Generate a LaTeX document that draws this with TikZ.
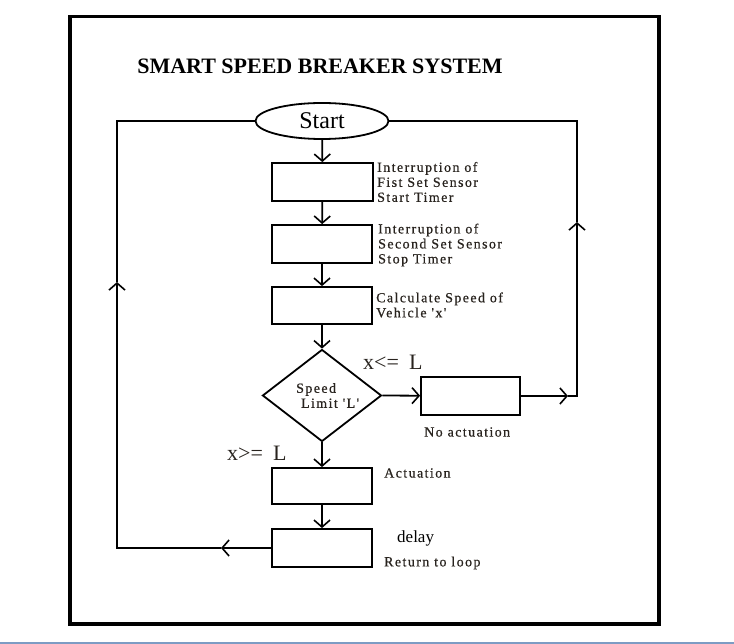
\documentclass[tikz,border=0pt]{standalone}
\usepackage{fontspec}
\setmainfont{Liberation Serif}
\newfontfamily\lblfont[LetterSpace=10,FakeBold=0.6]{Liberation Serif}
\usetikzlibrary{positioning,calc,shapes,arrows.meta}
\definecolor{txt}{RGB}{40,35,30}
\definecolor{bottomrule}{RGB}{125,155,195}

\begin{document}
\begin{tikzpicture}[x=1pt,y=-1pt,
    ln/.style={line width=1.8pt},
    arr/.style={line width=1.8pt,-{Straight Barb[length=7pt,width=16pt,line width=1.6pt]}},
    box/.style={draw,line width=1.8pt,minimum width=100pt,minimum height=37pt,inner sep=0pt},
    lbl/.style={font=\fontsize{14}{15}\lblfont,text=txt,align=left,inner sep=0pt},
    cond/.style={font=\fontsize{22}{24}\selectfont,text=txt,inner sep=0pt}]
                    \useasboundingbox (0,0) rectangle (734,644);
                    \draw[line width=3.5pt] (70,16.5) rectangle (659,624);
                    \draw[bottomrule,line width=1.5pt] (0,643) -- (734,643);
                    \node[font=\fontsize{22}{24}\selectfont\bfseries] (title) at (320,66) {SMART SPEED BREAKER SYSTEM};
                    % flow nodes
                    \node[draw,ellipse,line width=1.8pt,minimum width=133pt,minimum height=36pt,inner sep=0pt,font=\fontsize{24}{26}\selectfont] (start) at (322,121) {Start};
                    \node[box,minimum width=101pt,minimum height=38pt] (first) at (322.5,182) {};
                    \node[box,minimum height=38pt] (second) at (322,244) {};
                    \node[box] (calc) at (322,305.5) {};
                    \node[draw,diamond,line width=1.8pt,minimum width=119pt,minimum height=92pt,inner sep=0pt] (limit) at (322,395.5) {};
                    \node[box,minimum width=99pt,minimum height=38pt] (noact) at (470.5,396) {};
                    \node[box,minimum height=36pt] (act) at (322,486) {};
                    \node[box,minimum height=38pt] (delay) at (322,548) {};
                    % labels
                    \node[lbl,anchor=west] (firstlbl) at (377,182) {Interruption of\\Fist Set Sensor\\Start Timer};
                    \node[lbl,anchor=west] (secondlbl) at (378,245) {Interruption of\\Second Set Sensor\\Stop Timer};
                    \node[lbl,anchor=west] (calclbl) at (376,305) {Calculate Speed of\\Vehicle 'x'};
                    \node[lbl,anchor=west] (limitlbl) at (296,395.5) {Speed\\\ Limit 'L'};
                    \node[lbl,anchor=west] (noactlbl) at (424,432) {No actuation};
                    \node[lbl,anchor=west] (actlbl) at (384,473) {Actuation};
                    \node[font=\fontsize{17}{19}\selectfont,anchor=west,inner sep=0pt] (delaylbl) at (397,538) {delay};
                    \node[lbl,anchor=west] (returnlbl) at (384,563) {Return to loop};
                    \node[cond,anchor=west] (le) at (363,362) {x<=\hspace{10pt}L};
                    \node[cond,anchor=west] (ge) at (227,453) {x>=\hspace{10pt}L};
                    % connectors
                    \draw[arr] (start) -- (first);
                    \draw[arr] (first) -- (second);
                    \draw[arr] (second) -- (calc);
                    \draw[arr] (calc) -- (limit.north);
                    \draw[arr] (limit.east) -- (noact);
                    \draw[arr] (limit.south) -- (act);
                    \draw[arr] (act) -- (delay);
                    % return loops
                    \coordinate (ra) at (568,396);
                    \coordinate (rb) at (577,396);
                    \coordinate (ru) at (577,222);
                    \coordinate (la) at (221,548);
                    \coordinate (lb) at (117,548);
                    \coordinate (lu) at (117,282);
                    \draw[arr] (noact) -- (ra);
                    \draw[arr] (ra) -- (rb) -- (ru);
                    \draw[ln] (ru) |- (start.east);
                    \draw[arr] (delay) -- (la);
                    \draw[arr] (la) -- (lb) -- (lu);
                    \draw[ln] (lu) |- (start.west);
\end{tikzpicture}
\end{document}
